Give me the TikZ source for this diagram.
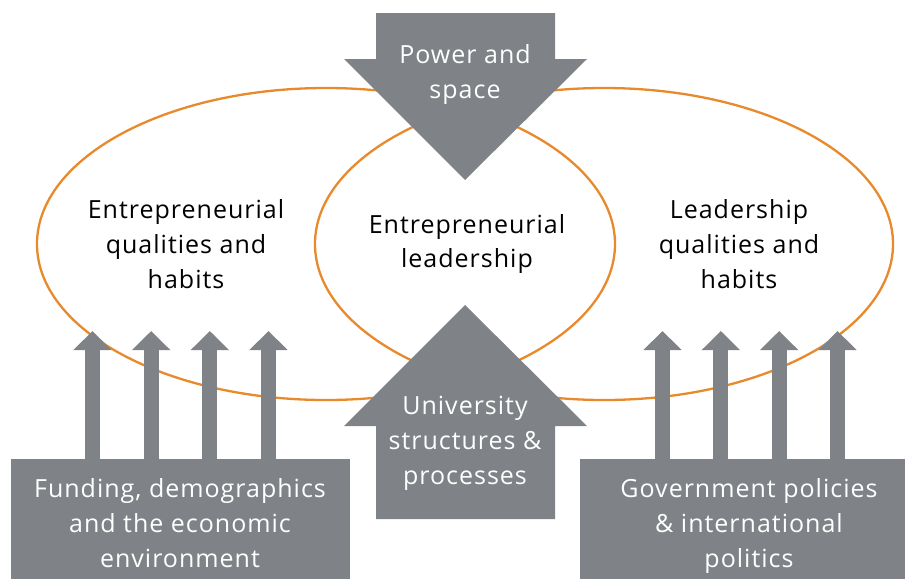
\documentclass[tikz,border=0pt]{standalone}
\usepackage{fontspec}
\setmainfont{Open Sans}[LetterSpace=4]
\usetikzlibrary{arrows.meta}
\definecolor{ringor}{HTML}{E8892B}
\definecolor{shade}{HTML}{7F8286}
\begin{document}
\begin{tikzpicture}[x=1pt,y=-1pt,
  ring/.style={draw=ringor, line width=2.3pt},
  shapefill/.style={fill=shade, draw=none},
  btxt/.style={align=center, font=\fontsize{25}{35}\selectfont, inner sep=0pt, text=black},
  wtxt/.style={btxt, text=white},
  upar/.style={draw=shade, line width=15pt, -{Triangle[width=37pt,length=19pt]}}]
\useasboundingbox (0,0) rectangle (905,579);
% ellipses
\draw[ring] (326,244) ellipse [x radius=289pt, y radius=156pt];
\draw[ring] (604,244) ellipse [x radius=289pt, y radius=156pt];
% top arrow
\fill[shapefill] (376,13) -- (555,13) -- (555,59) -- (587,59) -- (465,180) -- (344,59) -- (376,59) -- cycle;
% bottom arrow
\fill[shapefill] (465,305) -- (587,426) -- (555,426) -- (555,519) -- (376,519) -- (376,426) -- (344,426) -- cycle;
% boxes
\node[shapefill, minimum width=339pt, minimum height=120pt, inner sep=0pt] (fundbox) at (180.5,519) {};
\node[shapefill, minimum width=325pt, minimum height=120pt, inner sep=0pt] (govbox) at (742.5,519) {};
% small arrows
\foreach \i/\xx in {1/92.5,2/151.2,3/209.8,4/268.5}{
  \coordinate (ls\i) at (\xx,459);
  \coordinate (le\i) at (\xx,331);
  \draw[upar] (ls\i) -- (le\i);
}
\foreach \i/\xx in {1/662.5,2/720.8,3/779.2,4/837.5}{
  \coordinate (rs\i) at (\xx,459);
  \coordinate (re\i) at (\xx,331);
  \draw[upar] (rs\i) -- (re\i);
}
% texts
\node[wtxt] (power) at (465,75) {Power and\\space};
\node[btxt] (entq) at (186,244) {Entrepreneurial\\qualities and\\habits};
\node[btxt] (entl) at (467,244) {Entrepreneurial\\leadership};
\node[btxt] (leadq) at (739,244) {Leadership\\qualities and\\habits};
\node[wtxt] (univ) at (465,443.5) {University\\structures \&\\processes};
\node[wtxt] (fund) at (180,523) {Funding, demographics\\and the economic\\environment};
\node[wtxt] (gov) at (749,525.5) {Government policies\\\& international\\politics};
\end{tikzpicture}
\end{document}
